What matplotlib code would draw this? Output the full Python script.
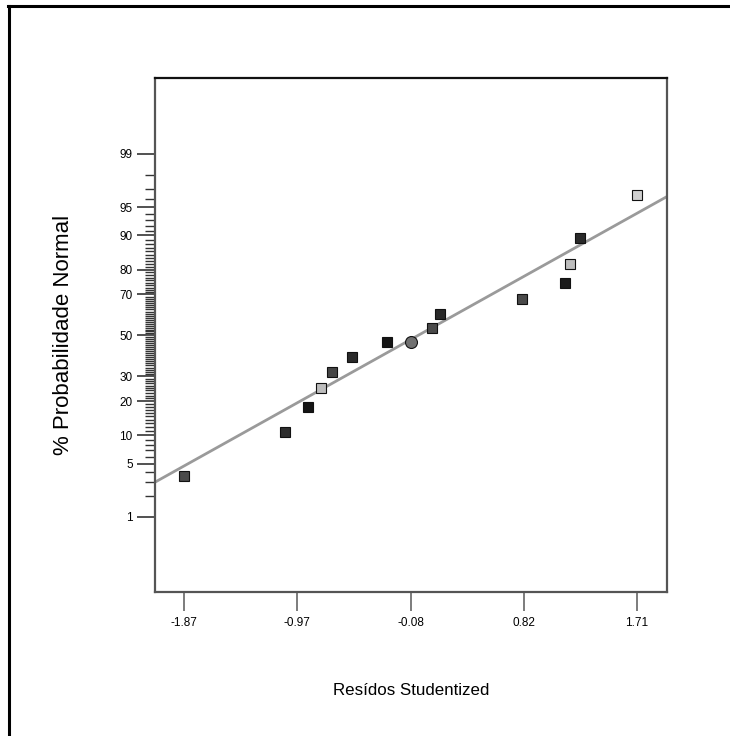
import numpy as np
import matplotlib.pyplot as plt
from matplotlib.lines import Line2D
from statistics import NormalDist

plt.rcParams['font.family'] = ['Liberation Sans', 'DejaVu Sans']

# residuos studentizados e probabilidade normal (%)
residuos = [-1.87, -1.07, -0.89, -0.79, -0.70, -0.54, -0.27, -0.08,
            0.09, 0.15, 0.80, 1.14, 1.18, 1.26, 1.71]
prob = [3.6, 10.7, 17.9, 25.0, 32.1, 39.3, 46.4, 46.4,
        53.6, 60.7, 67.9, 75.0, 82.1, 89.3, 96.4]
cores = ['#4a4a4a', '#2e2e2e', '#151515', '#bdbdbd', '#454545', '#2a2a2a',
         '#151515', '#707070', '#4a4a4a', '#2a2a2a', '#4a4a4a', '#1a1a1a',
         '#bdbdbd', '#2a2a2a', '#cfcfcf']
marcadores = ['s'] * 7 + ['o'] + ['s'] * 7

x_ticks = [-1.87, -0.975, -0.08, 0.815, 1.71]
x_labels = ['-1.87', '-0.97', '-0.08', '0.82', '1.71']
y_major = [1, 5, 10, 20, 30, 50, 70, 80, 90, 95, 99]

# reta de referencia (media e desvio dos residuos)
reta_media = -0.02
reta_desvio = 1.105

nd = NormalDist()
def z(p):
    return nd.inv_cdf(p / 100.0)

fig = plt.figure(figsize=(7.3, 7.36), dpi=100)
ax = fig.add_axes([0.2123, 0.1957, 0.9137 - 0.2123, 0.894 - 0.1957])

x_min, x_max = -2.10, 1.947
ax.set_xlim(x_min, x_max)
ax.set_ylim(-3.29, 3.30)

xs = np.array([x_min, x_max])
ax.plot(xs, (xs - reta_media) / reta_desvio, color='#9a9a9a', lw=2, zorder=2)

for xv, pv, c, m in zip(residuos, prob, cores, marcadores):
    ax.plot(xv, z(pv), marker=m, ms=8.6 if m == 'o' else 7.4,
            mfc=c, mec='#111111', mew=0.8, ls='none', zorder=3)

# eixo y em escala de probabilidade normal
ax.set_yticks([z(p) for p in y_major])
ax.set_yticklabels([str(p) for p in y_major], fontsize=8.5)
ax.set_yticks([z(p) for p in range(2, 99) if p not in y_major], minor=True)
ax.tick_params(axis='y', which='major', direction='out', length=13, width=1.2,
               color='#333333', pad=3)
ax.tick_params(axis='y', which='minor', direction='out', length=7, width=1.0,
               color='#333333')

ax.set_xticks(x_ticks)
ax.set_xticklabels(x_labels, fontsize=8.5)
ax.tick_params(axis='x', direction='out', length=14, width=1.2,
               color='#666666', pad=4)

for lado in ['left', 'right', 'bottom']:
    ax.spines[lado].set_color('#555555')
    ax.spines[lado].set_linewidth(1.6)
ax.spines['top'].set_color('#111111')
ax.spines['top'].set_linewidth(1.6)

ax.set_xlabel('Resídos Studentized', fontsize=12.2, labelpad=39)
ax.set_ylabel('% Probabilidade Normal', fontsize=16, labelpad=33)

# moldura externa (apenas topo e esquerda)
fig.add_artist(Line2D([9 / 730, 9 / 730], [0, 1 - 5.5 / 736],
                      transform=fig.transFigure, color='black', lw=2.2))
fig.add_artist(Line2D([8 / 730, 1], [1 - 5.5 / 736, 1 - 5.5 / 736],
                      transform=fig.transFigure, color='black', lw=2.2))

fig.savefig('out.png', dpi=100)
